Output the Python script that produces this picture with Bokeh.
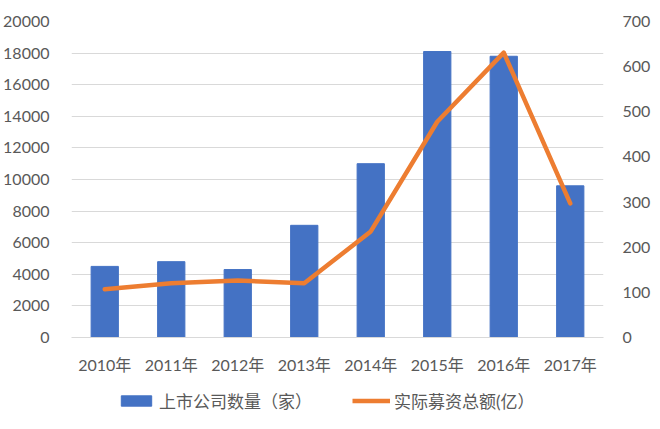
from bokeh.plotting import figure
from bokeh.layouts import column
from bokeh.models import Range1d, LinearAxis, Legend, LegendItem, FixedTicker
from bokeh.embed import file_html
from bokeh.resources import INLINE

years = ["2010年", "2011年", "2012年", "2013年", "2014年", "2015年", "2016年", "2017年"]
companies = [4500, 4800, 4300, 7100, 11000, 18100, 17800, 9600]
funds = [107, 120, 126, 120, 235, 478, 631, 297]
left_ticks = [0, 2000, 4000, 6000, 8000, 10000, 12000, 14000, 16000, 18000, 20000]
right_ticks = [0, 100, 200, 300, 400, 500, 600, 700]
series_names = ["上市公司数量（家）", "实际募资总额(亿）"]

FONT = "Lato, 'Noto Sans CJK SC'"
GRAY = "#595959"
BLUE = "#4472C4"
ORANGE = "#ED7D31"

p = figure(x_range=years, y_range=Range1d(0, 20000),
           frame_width=532, frame_height=316,
           output_backend="svg", toolbar_location=None,
           min_border_left=71, min_border_right=49, min_border_top=21, min_border_bottom=44)
p.extra_y_ranges = {"right": Range1d(0, 700)}

bars = p.vbar(x=years, top=companies, width=0.41, color=BLUE)
line = p.line(x=years, y=funds, y_range_name="right", line_color=ORANGE,
              line_width=4.5, line_join="round", line_cap="round")

p.outline_line_color = None
p.xgrid.grid_line_color = None
p.ygrid.grid_line_color = "#D9D9D9"
p.ygrid.grid_line_width = 1.2
p.yaxis.ticker = FixedTicker(ticks=left_ticks)

for ax in p.yaxis:
    ax.axis_line_color = None
    ax.major_tick_line_color = None
    ax.minor_tick_line_color = None
    ax.major_label_text_font = FONT
    ax.major_label_text_font_size = "16px"
    ax.major_label_text_color = GRAY
    ax.major_label_standoff = 16

ax_r = LinearAxis(y_range_name="right", ticker=FixedTicker(ticks=right_ticks))
ax_r.axis_line_color = None
ax_r.major_tick_line_color = None
ax_r.minor_tick_line_color = None
ax_r.major_label_text_font = FONT
ax_r.major_label_text_font_size = "16px"
ax_r.major_label_text_color = GRAY
ax_r.major_label_standoff = 13
p.add_layout(ax_r, "right")

xa = p.xaxis[0]
xa.axis_line_color = "#D9D9D9"
xa.axis_line_width = 1.2
xa.major_tick_line_color = None
xa.minor_tick_line_color = None
xa.major_label_text_font = FONT
xa.major_label_text_font_size = "16px"
xa.major_label_text_color = GRAY
xa.major_label_standoff = 11

# legend strip below the chart: same series drawn out of view, only their legend shows
leg = figure(width=652, height=40, x_range=years, y_range=Range1d(1e6, 2e6),
             x_axis_location=None, y_axis_location=None,
             output_backend="svg", toolbar_location=None,
             min_border=0, min_border_left=71, min_border_right=49,
             min_border_top=0, min_border_bottom=0)
leg.grid.visible = False
leg.outline_line_color = None
lb = leg.vbar(x=years, top=companies, width=0.41, color=BLUE)
ll = leg.line(x=years, y=funds, line_color=ORANGE, line_width=4.5)
legend = Legend(items=[LegendItem(label=series_names[0], renderers=[lb]),
                       LegendItem(label=series_names[1], renderers=[ll])],
                orientation="horizontal", location=(46, 8),
                label_text_font=FONT, label_text_font_size="17px",
                label_text_color=GRAY, glyph_width=38, glyph_height=13,
                spacing=40, label_standoff=4, border_line_color=None,
                background_fill_alpha=0, margin=0, padding=0)
leg.add_layout(legend, "center")

layout = column(p, leg, spacing=0)
open("out.html", "w").write(file_html(layout, INLINE))
